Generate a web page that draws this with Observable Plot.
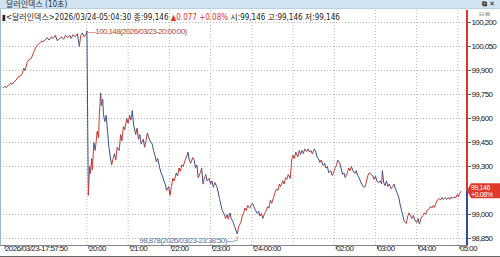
<!DOCTYPE html>
<html>
<head>
<meta charset="utf-8">
<script src="https://cdn.jsdelivr.net/npm/d3@7"></script>
<script src="https://cdn.jsdelivr.net/npm/@observablehq/plot@0.6"></script>
<style>
  html, body { margin: 0; padding: 0; background: #fff; }
  body { width: 500px; height: 257px; overflow: hidden; position: relative;
         font-family: 'Liberation Sans Narrow', 'DejaVu Sans Condensed', 'Noto Sans CJK KR', sans-serif; }
  #titlebar { height: 9px; background: #d2e4f2; border-bottom: 1px solid #b9cfe2; box-sizing: border-box;
              font-size: 8px; line-height: 9px; color: #1c2c44; padding-left: 6px; position: relative; }
  #titlebar .icons { position: absolute; right: 3px; top: 0; font-size: 7px; color: #222; letter-spacing: 2px;
              font-family: 'DejaVu Sans', sans-serif; font-weight: bold; }
  #info { position: absolute; left: 2px; top: 11px; font-size: 8px; color: #222; white-space: nowrap; }
  #info .red { color: #d8382c; }
  #mini { position: absolute; left: 479px; top: 10px; font-size: 6px; color: #777; letter-spacing: 1px;
          font-family: 'DejaVu Sans', sans-serif; }
  #chart { position: absolute; left: 0; top: 9px; }
  #leftline { position: absolute; left: 0; top: 9px; width: 1px; height: 236px; background: #9db9d9; }
  #bottomline { position: absolute; left: 0; top: 256px; width: 500px; height: 1px; background: #666; }
</style>
</head>
<body>
<div id="titlebar">달러인덱스 (10초)<span class="icons">⧉✕</span></div>
<div id="chart"></div>
<div id="leftline"></div>
<div id="bottomline"></div>
<div id="info">▮&lt;달러인덱스&gt;2026/03/24-05:04:30 종:99,146 <span class="red">▲0.077 +0.08%</span> 시:99,146 고:99,146 저:99,146</div>
<div id="mini">⊟⊠</div>
<script>
// ---- data (10-second bars, sampled) ----
const times = [
  "17:57:50","18:00","18:03","18:06","18:09","18:11","18:14","18:17","18:20","18:23","18:26","18:28","18:30","18:33","18:36","18:39","18:42","18:45","18:48","18:51","18:54","18:56","18:59","19:02","19:05","19:08","19:11","19:14","19:17","19:20","19:23","19:26","19:29","19:32","19:35","19:37","19:40","19:43","19:46","19:49","19:51","19:53","19:56","19:59","20:00",
  "20:02","20:04","20:05","20:07","20:08","20:10","20:12","20:15","20:17","20:18","20:20","20:21","20:23","20:24","20:26","20:28","20:30","20:32","20:34","20:36","20:38","20:40","20:42","20:44","20:47","20:49","20:51","20:53","20:55","20:58",
  "21:00","21:02","21:04","21:06","21:08","21:11","21:13","21:15","21:17","21:19","21:22","21:24","21:26","21:28","21:30","21:32","21:35","21:37","21:39","21:41","21:43","21:46","21:48","21:50","21:52","21:54","21:56","21:59",
  "22:01","22:03","22:05","22:07","22:10","22:12","22:14","22:16","22:18","22:20","22:23","22:25","22:27","22:29","22:31","22:34","22:36","22:38","22:40","22:42","22:45","22:47","22:49","22:51","22:53","22:55","22:58",
  "23:00","23:02","23:04","23:06","23:09","23:11","23:13","23:15","23:17","23:20","23:22","23:24","23:26","23:28","23:30","23:33","23:35","23:38:50","23:41","23:44","23:46","23:48","23:50","23:52","23:54","23:57","23:59",
  "00:01","00:03","00:05","00:08","00:10","00:12","00:14","00:16","00:18","00:21","00:23","00:25","00:27","00:29","00:32","00:34","00:36","00:38","00:40","00:42","00:45","00:47","00:49","00:51","00:53","00:56","00:58",
  "01:00","01:02","01:04","01:07","01:09","01:11","01:13","01:15","01:17","01:20","01:22","01:24","01:26","01:28","01:31","01:33","01:35","01:37","01:39","01:41","01:44","01:46","01:48","01:50","01:52","01:55","01:57","01:59",
  "02:01","02:03","02:05","02:08","02:10","02:12","02:14","02:16","02:19","02:21","02:23","02:25","02:27","02:30","02:32","02:34","02:36","02:38","02:40","02:43","02:45","02:47","02:49","02:51","02:54","02:56","02:58",
  "03:00","03:02","03:04","03:07","03:09","03:10","03:12","03:14","03:16","03:18","03:20","03:23","03:25","03:27","03:29","03:31","03:34","03:36","03:38","03:40","03:42","03:45","03:47","03:49","03:51","03:53","03:55","03:58",
  "04:00","04:02","04:04","04:06","04:09","04:11","04:13","04:15","04:17","04:20","04:22","04:24","04:26","04:28","04:30","04:33","04:35","04:37","04:39","04:41","04:44","04:46","04:48","04:50","04:52","04:54","04:57","04:59",
  "05:01","05:02","05:04:30"
];
const prices = [
  99.79,99.80,99.795,99.81,99.82,99.815,99.83,99.84,99.86,99.865,99.88,99.915,99.90,99.95,99.97,99.975,100.01,100.04,100.06,100.07,100.085,100.08,100.09,100.105,100.09,100.11,100.10,100.12,100.085,100.10,100.11,100.095,100.12,100.105,100.12,100.10,100.125,100.11,100.13,100.05,100.12,100.135,100.11,100.13,100.148,
  99.12,99.30,99.256,99.35,99.28,99.45,99.40,99.52,99.48,99.62,99.76,99.68,99.72,99.63,99.58,99.62,99.52,99.42,99.36,99.31,99.35,99.38,99.34,99.42,99.40,99.50,99.46,99.55,99.53,99.60,
  99.57,99.62,99.59,99.65,99.56,99.50,99.54,99.47,99.50,99.44,99.47,99.42,99.46,99.51,99.48,99.46,99.44,99.40,99.37,99.33,99.35,99.29,99.26,99.24,99.21,99.19,99.15,99.175,
  99.12,99.175,99.225,99.21,99.26,99.24,99.29,99.27,99.31,99.30,99.34,99.36,99.39,99.34,99.32,99.356,99.34,99.29,99.31,99.23,99.26,99.29,99.19,99.23,99.25,99.21,99.225,
  99.19,99.21,99.17,99.20,99.175,99.14,99.10,99.06,99.025,99.00,98.975,99.00,98.97,99.01,98.975,98.95,98.925,98.878,98.925,98.95,98.99,99.01,99.04,99.025,99.056,99.04,99.06,
  99.07,99.05,99.03,99.006,99.02,98.99,99.006,98.975,99.00,99.025,99.05,99.04,99.09,99.07,99.11,99.14,99.16,99.15,99.19,99.175,99.21,99.19,99.23,99.22,99.25,99.225,99.34,
  99.37,99.35,99.39,99.36,99.40,99.375,99.40,99.38,99.41,99.394,99.41,99.39,99.40,99.38,99.41,99.394,99.36,99.35,99.325,99.34,99.306,99.32,99.29,99.30,99.26,99.275,99.244,99.26,
  99.29,99.306,99.34,99.32,99.29,99.25,99.26,99.23,99.26,99.29,99.275,99.30,99.275,99.256,99.275,99.244,99.23,99.21,99.19,99.17,99.175,99.21,99.244,99.26,99.25,99.24,99.22,
  99.24,99.21,99.20,99.21,99.19,99.275,99.20,99.18,99.21,99.175,99.19,99.16,99.175,99.19,99.16,99.14,99.106,99.06,99.025,98.99,98.956,98.944,98.99,99.01,98.99,98.975,98.995,98.96,
  98.95,98.975,98.94,98.975,98.994,99.01,99.00,99.025,99.03,99.05,99.04,99.056,99.044,99.07,99.09,99.10,99.09,99.106,99.094,99.106,99.094,99.106,99.094,99.11,99.10,99.11,99.106,99.125,
  99.11,99.13,99.146
];
const yTicks = [100.2, 100.05, 99.9, 99.75, 99.6, 99.45, 99.3, 99.0, 98.85];
const yLabels = ["100,200","100,050","99,900","99,750","99,600","99,450","99,300","99,000","98,850"];
const xTickTimes = ["17:57:50","20:00","21:00","22:00","23:00","00:00","02:00","03:00","04:00","05:00"];
const xLabels = ["2026/03/23-17:57:50","20:00","21:00","22:00","23:00","24-00:00","02:00","03:00","04:00","05:00"];
const gridTimes = ["20:00","21:00","22:00","23:00","00:00","01:00","02:00","03:00","04:00","05:00"];
const maxPoint = {time: "20:00", price: 100.148, label: "100,148(2026/03/23-20:00:00)"};
const minPoint = {time: "23:38:50", price: 98.878, label: "98,878(2026/03/23-23:38:50)"};
const lastPrice = 99.146, lastLabel = "99,146", lastChange = "+0.08%";

// ---- helpers ----
function toDate(s) {
  const [h, m, sec = "00"] = s.split(":");
  const day = +h >= 17 ? "23" : "24";
  return new Date(`2026-03-${day}T${h}:${m}:${sec}Z`);
}
const RED = "#d8382c", BLUE = "#32508f";
const FONT = "'Liberation Sans','Noto Sans CJK KR',sans-serif";
const data = times.map((t, i) => ({t: toDate(t), p: prices[i]}));
const segs = d3.pairs(data).map(([a, b]) => ({x1: a.t, y1: a.p, x2: b.t, y2: b.p, up: b.p >= a.p}));
const xTicks = xTickTimes.map(toDate);
const grids = gridTimes.map(toDate);
const startT = data[0].t, endT = data[data.length - 1].t;

function rightAxis(index, scales, values, dims) {
  const y = scales.y(lastPrice);
  const xr = dims.width - dims.marginRight;
  const g = d3.create("svg:g");
  g.append("line").attr("x1", xr).attr("x2", xr).attr("y1", dims.marginTop).attr("y2", y)
    .attr("stroke", RED).attr("stroke-width", 2);
  g.append("line").attr("x1", xr).attr("x2", xr).attr("y1", y).attr("y2", dims.height - dims.marginBottom)
    .attr("stroke", BLUE).attr("stroke-width", 2);
  g.append("path")
    .attr("d", `M${xr},${y} L${xr + 4},${y - 7.5} L${dims.width},${y - 7.5} L${dims.width},${y + 7.5} L${xr + 4},${y + 7.5} Z`)
    .attr("fill", "#e0382b");
  const t = g.append("text").attr("fill", "#fff").attr("font-size", 7).attr("text-anchor", "start")
    .attr("font-family", FONT).attr("letter-spacing", "-0.4px");
  t.append("tspan").attr("x", xr + 4).attr("y", y - 0.8).text(lastLabel);
  t.append("tspan").attr("x", xr + 4).attr("y", y + 6.6).text(lastChange);
  return g.node();
}

const chart = Plot.plot({
  width: 500,
  height: 248,
  marginLeft: 0,
  marginRight: 33,
  marginTop: 1,
  marginBottom: 12,
  style: {fontFamily: FONT, fontSize: "8px", letterSpacing: "-0.6px", color: "#222", background: "transparent"},
  x: {type: "utc", domain: [startT, endT], range: [2.5, 460.5], axis: null},
  y: {domain: [98.85, 100.2], range: [229, 13], axis: null},
  marks: [
    Plot.gridY(yTicks, {stroke: "#b8b8b8", strokeOpacity: 1, strokeDasharray: "1,2"}),
    Plot.gridX(grids, {stroke: "#b8b8b8", strokeOpacity: 1, strokeDasharray: "1,2"}),
    Plot.frame({anchor: "bottom", stroke: "#888"}),
    Plot.axisX(xTicks, {tickSize: 4, tickPadding: -4, textAnchor: "start", dx: 2, stroke: "#555", fill: "#222",
      tickFormat: (d, i) => xLabels[i]}),
    Plot.link(segs, {x1: "x1", y1: "y1", x2: "x2", y2: "y2", stroke: d => d.up ? RED : BLUE, strokeWidth: 1}),
    Plot.axisY(yTicks, {anchor: "right", tickSize: 3, tickPadding: 1, stroke: "#666", fill: "#222",
      tickFormat: (d, i) => yLabels[i]}),
    Plot.text([maxPoint], {x: d => toDate(d.time), y: "price", text: d => "—" + d.label, textAnchor: "start",
      dx: 1, dy: 1, fill: "#b34a3a", fontSize: 8}),
    Plot.text([minPoint], {x: d => toDate(d.time), y: "price", text: d => d.label + "—┘", textAnchor: "end",
      dx: 2, dy: 6, fill: "#5674a6", fontSize: 8}),
    rightAxis
  ]
});
document.getElementById("chart").appendChild(chart);
</script>
</body>
</html>
